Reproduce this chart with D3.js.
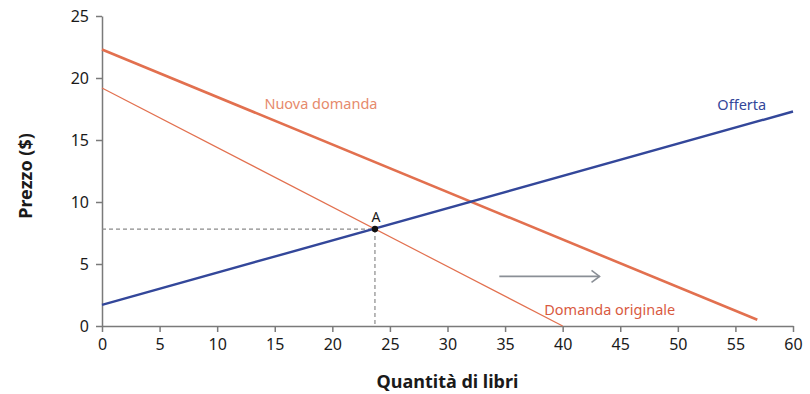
<!DOCTYPE html>
<html>
<head>
<meta charset="utf-8">
<script src="https://cdn.jsdelivr.net/npm/d3@7"></script>
<style>
  body { margin: 0; background: #fff; }
  text { font-family: "Noto Sans", sans-serif; }
</style>
</head>
<body>
<div id="chart"></div>
<script>
// data
const xTicks = [0, 5, 10, 15, 20, 25, 30, 35, 40, 45, 50, 55, 60];
const yTicks = [0, 5, 10, 15, 20, 25];
const supply = [[0, 1.7], [60, 17.3]];
const demandOld = [[0, 19.2], [40, 0]];
const demandNew = [[0, 22.3], [56.9, 0.5]];
const pointA = [23.7, 7.82];
const shiftArrow = [[34.5, 4], [43.2, 4]];

const margin = { top: 16, right: 17, bottom: 68, left: 102 };
const width = 810 - margin.left - margin.right;
const height = 394 - margin.top - margin.bottom;

const svg = d3.select("#chart")
  .append("svg")
  .attr("width", 810)
  .attr("height", 394)
  .append("g")
  .attr("transform", `translate(${margin.left}, ${margin.top})`);

const x = d3.scaleLinear().domain([0, 60]).range([0, width]);
const y = d3.scaleLinear().domain([0, 25]).range([height, 0]);

// axes
const xAxis = svg.append("g")
  .attr("transform", `translate(0, ${height})`)
  .call(d3.axisBottom(x).tickValues(xTicks).tickSize(6).tickSizeOuter(0).tickPadding(7));
const yAxis = svg.append("g")
  .call(d3.axisLeft(y).tickValues(yTicks).tickSize(6).tickSizeOuter(0).tickPadding(7));

[xAxis, yAxis].forEach(a => {
  a.select(".domain").attr("stroke", "#7a7a7a").attr("stroke-width", 1.5);
  a.selectAll(".tick line").attr("stroke", "#7a7a7a").attr("stroke-width", 1.5);
  a.selectAll(".tick text").attr("fill", "#1a1a1a").style("font-size", "16px")
    .style("font-family", "'Noto Sans', sans-serif");
});

// axis titles
svg.append("text")
  .attr("x", width / 2)
  .attr("y", height + 62)
  .attr("text-anchor", "middle")
  .style("font-size", "18px")
  .style("font-weight", "bold")
  .attr("fill", "#1a1a1a")
  .text("Quantità di libri");

svg.append("text")
  .attr("transform", `translate(${-70}, ${height / 2 + 5}) rotate(-90)`)
  .attr("text-anchor", "middle")
  .style("font-size", "18px")
  .style("font-weight", "bold")
  .attr("fill", "#1a1a1a")
  .text("Prezzo ($)");

const line = d3.line().x(d => x(d[0])).y(d => y(d[1]));

// dashed guides to A
svg.append("path")
  .attr("d", line([[0, pointA[1]], pointA, [pointA[0], 0]]))
  .attr("fill", "none")
  .attr("stroke", "#8a8a8a")
  .attr("stroke-width", 1.2)
  .attr("stroke-dasharray", "4,3");

// curves
svg.append("path").attr("d", line(demandOld))
  .attr("fill", "none").attr("stroke", "#e2704f").attr("stroke-width", 1.2);
svg.append("path").attr("d", line(demandNew))
  .attr("fill", "none").attr("stroke", "#e2704f").attr("stroke-width", 2.6);
svg.append("path").attr("d", line(supply))
  .attr("fill", "none").attr("stroke", "#33479a").attr("stroke-width", 2.4);

// shift arrow
svg.append("path").attr("d", line(shiftArrow))
  .attr("fill", "none").attr("stroke", "#8a8f96").attr("stroke-width", 1.6);
const ax = x(shiftArrow[1][0]), ay = y(shiftArrow[1][1]);
svg.append("path")
  .attr("d", `M${ax - 8},${ay - 6}L${ax},${ay}L${ax - 8},${ay + 6}`)
  .attr("fill", "none").attr("stroke", "#8a8f96").attr("stroke-width", 1.6);

// point A
svg.append("circle")
  .attr("cx", x(pointA[0])).attr("cy", y(pointA[1])).attr("r", 3.2)
  .attr("fill", "#111");
svg.append("text")
  .attr("x", x(pointA[0]) + 1).attr("y", y(pointA[1]) - 7)
  .attr("text-anchor", "middle")
  .style("font-size", "14px").attr("fill", "#1a1a1a")
  .text("A");

// curve labels
svg.append("text")
  .attr("x", x(14.1)).attr("y", y(17.5))
  .style("font-size", "14.5px").attr("fill", "#e68a6c")
  .text("Nuova domanda");
svg.append("text")
  .attr("x", x(55.55)).attr("y", y(17.4))
  .style("font-size", "14.5px").attr("fill", "#33479a")
  .attr("text-anchor", "middle")
  .text("Offerta");
svg.append("text")
  .attr("x", x(38.4)).attr("y", y(0.9))
  .style("font-size", "14.5px").attr("fill", "#d95a3f")
  .text("Domanda originale");
</script>
</body>
</html>
